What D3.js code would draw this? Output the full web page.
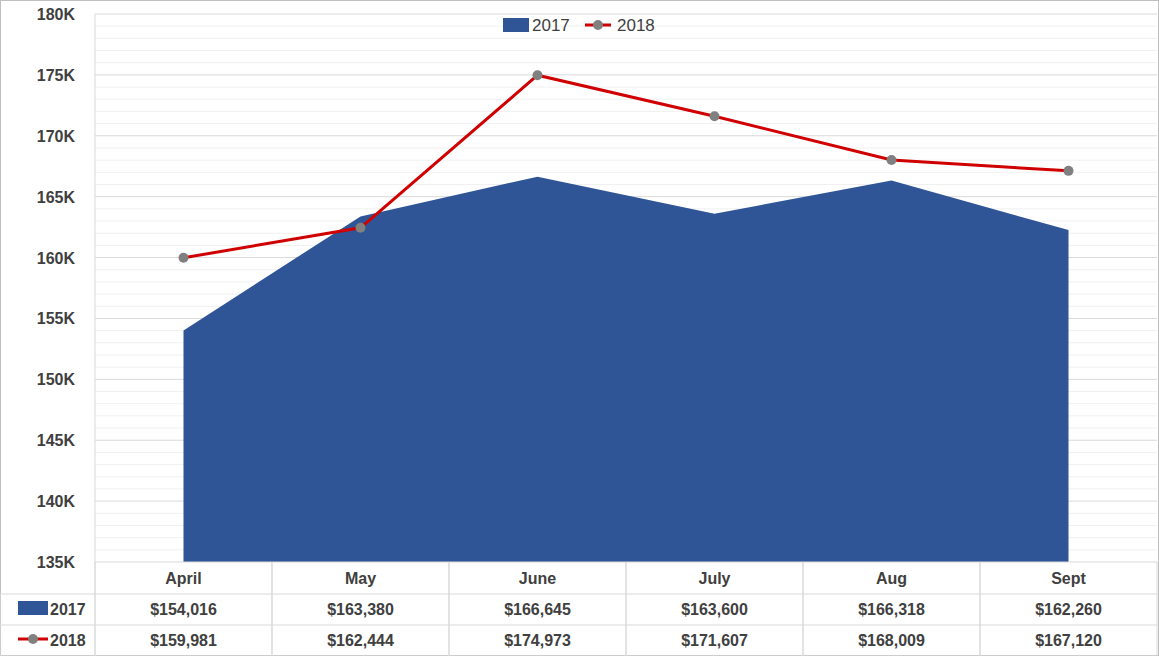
<!DOCTYPE html>
<html><head><meta charset="utf-8">
<script src="https://cdn.jsdelivr.net/npm/d3@7"></script>
<style>body{margin:0;background:#fff}svg{font-family:"Liberation Sans",Arial,sans-serif}</style>
</head><body><svg id="c" width="1159" height="656"></svg>
<script>
const categories=["April","May","June","July","Aug","Sept"];
const values2017=[154016,163380,166645,163600,166318,162260];
const values2018=[159981,162444,174973,171607,168009,167120];
const yTicks=[135000,140000,145000,150000,155000,160000,165000,170000,175000,180000];
const fmt=d=>"$"+d3.format(",")(d);

const svg=d3.select("#c");
const L=95,R=1157,T=14,B=562;
const x=d3.scaleBand().domain(categories).range([L,R]);
const y=d3.scaleLinear().domain([135000,180000]).range([B,T]);
const cx=d=>x(d)+x.bandwidth()/2;

svg.append("rect").attr("x",0.5).attr("y",0.5).attr("width",1158).attr("height",655).attr("fill","none").attr("stroke","#bfbfbf");
// minor grid
svg.append("g").selectAll("line").data(d3.range(136000,180000,1000).filter(v=>v%5000)).join("line")
 .attr("x1",L).attr("x2",R).attr("y1",d=>y(d)).attr("y2",d=>y(d)).attr("stroke","#f0f0f0");
svg.append("g").selectAll("line").data(yTicks.slice(1)).join("line")
 .attr("x1",L).attr("x2",R).attr("y1",d=>y(d)).attr("y2",d=>y(d)).attr("stroke","#d9d9d9");
// area
svg.append("path").datum(categories.map((c,i)=>[cx(c),values2017[i]]))
 .attr("fill","#2F5597")
 .attr("d",d3.area().x(d=>d[0]).y0(B).y1(d=>y(d[1])));
// line
const pts=categories.map((c,i)=>[cx(c),values2018[i]]);
svg.append("path").datum(pts).attr("fill","none").attr("stroke","#D00000").attr("stroke-width",3)
 .attr("d",d3.line().x(d=>d[0]).y(d=>y(d[1])));
svg.append("g").selectAll("circle").data(pts).join("circle").attr("cx",d=>d[0]).attr("cy",d=>y(d[1])).attr("r",5).attr("fill","#808080");
// y axis
svg.append("line").attr("x1",L).attr("x2",L).attr("y1",T).attr("y2",656).attr("stroke","#d9d9d9");
svg.append("g").selectAll("text").data(yTicks).join("text")
 .attr("x",75).attr("y",d=>y(d)+6).attr("text-anchor","end").attr("font-size",16).attr("font-weight","bold").attr("fill","#404040")
 .text(d=>d/1000+"K");
// table
const rows=[562,594,625,656];
rows.forEach(r=>svg.append("line").attr("x1",r===562?L:0).attr("x2",R).attr("y1",r).attr("y2",r).attr("stroke","#d9d9d9"));
svg.append("line").attr("x1",0).attr("x2",0).attr("y1",594).attr("y2",656).attr("stroke","#d9d9d9");
categories.forEach(c=>svg.append("line").attr("x1",x(c)+x.bandwidth()).attr("x2",x(c)+x.bandwidth()).attr("y1",562).attr("y2",656).attr("stroke","#d9d9d9"));
categories.forEach(c=>svg.append("line").attr("x1",x(c)).attr("x2",x(c)).attr("y1",562).attr("y2",656).attr("stroke","#d9d9d9"));
const tx=(t,xx,yy,a)=>svg.append("text").attr("x",xx).attr("y",yy).attr("text-anchor",a||"middle").attr("font-size",16).attr("font-weight","bold").attr("fill","#404040").text(t);
categories.forEach((c,i)=>{tx(c,cx(c),584);tx(fmt(values2017[i]),cx(c),615);tx(fmt(values2018[i]),cx(c),646);});
svg.append("rect").attr("x",18).attr("y",601).attr("width",30).attr("height",14).attr("fill","#2F5597");
tx("2017",50,615,"start");
svg.append("line").attr("x1",18).attr("x2",48).attr("y1",639).attr("y2",639).attr("stroke","#D00000").attr("stroke-width",3);
svg.append("circle").attr("cx",33).attr("cy",639).attr("r",5).attr("fill","#808080");
tx("2018",50,646,"start");
// legend
svg.append("rect").attr("x",503).attr("y",18).attr("width",26).attr("height",14).attr("fill","#2F5597");
svg.append("text").attr("x",532).attr("y",31).attr("font-size",17).attr("fill","#404040").text("2017");
svg.append("line").attr("x1",585).attr("x2",611).attr("y1",25).attr("y2",25).attr("stroke","#D00000").attr("stroke-width",3);
svg.append("circle").attr("cx",598).attr("cy",25).attr("r",5).attr("fill","#808080");
svg.append("text").attr("x",617).attr("y",31).attr("font-size",17).attr("fill","#404040").text("2018");
</script></body></html>
